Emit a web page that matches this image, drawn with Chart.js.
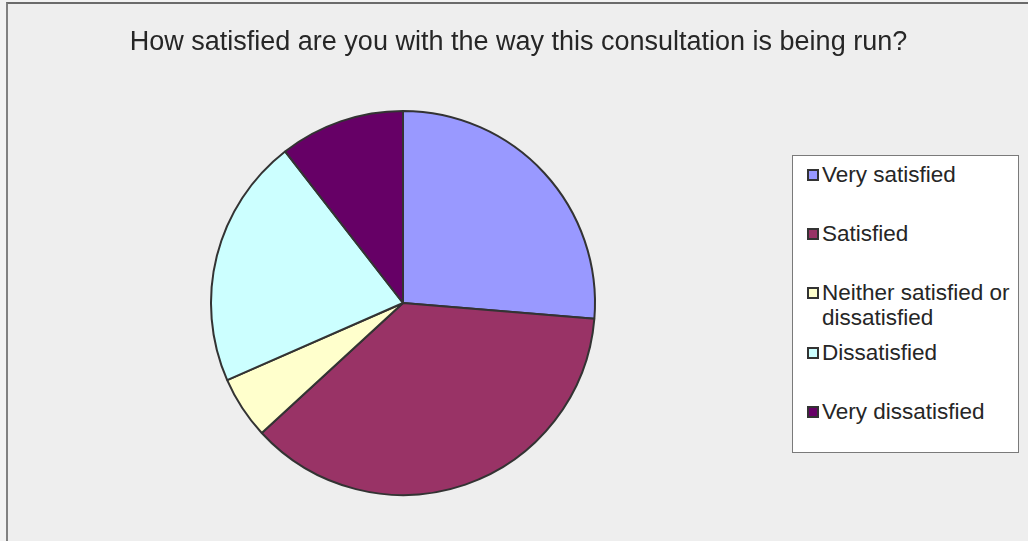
<!DOCTYPE html>
<html>
<head>
<meta charset="utf-8">
<script src="https://cdn.jsdelivr.net/npm/chart.js@4/dist/chart.umd.min.js"></script>
<style>
  html, body { margin: 0; padding: 0; }
  body { width: 1028px; height: 541px; background: #f2f2f2; overflow: hidden; position: relative;
         font-family: "Liberation Sans", Arial, sans-serif; }
  #frame { position: absolute; left: 6px; top: 2px; width: 1040px; height: 560px;
           background: #eeeeee; border-left: 2px solid #808080; border-top: 2px solid #6a6a6a; }
  #wrap { position: absolute; left: 0; top: 0; width: 1028px; height: 541px; }
  #title { position: absolute; left: 8px; width: 1021px; top: 26px; text-align: center;
           font-size: 27px; line-height: 30px; color: #262626; white-space: nowrap; }
  #legend { position: absolute; left: 792px; top: 155px; width: 227px; height: 298px;
            box-sizing: border-box; background: #ffffff; border: 1px solid #7a7a7a; }
  .item { display: flex; align-items: flex-start; height: 59.4px; box-sizing: border-box;
          padding: 5.5px 0 0 14px; }
  .swatch { flex: none; width: 12px; height: 12px; box-sizing: border-box; border: 2px solid #333333;
            margin: 7px 3px 0 0; }
  .txt { font-size: 22.5px; line-height: 25px; color: #262626; width: 194px; }
</style>
</head>
<body>
<div id="frame"></div>
<div id="wrap"><canvas id="c" width="1028" height="541"></canvas></div>
<div id="title"></div>
<div id="legend"></div>
<script>
// Survey responses (number of respondents per answer)
const titleText = 'How satisfied are you with the way this consultation is being run?';
const categories = ['Very satisfied', 'Satisfied', 'Neither satisfied or dissatisfied', 'Dissatisfied', 'Very dissatisfied'];
const responses = [5, 7, 1, 4, 2];
const sliceColors = ['#9999FF', '#993366', '#FFFFCC', '#CCFFFF', '#660066'];

document.getElementById('title').textContent = titleText;

// Legend, one row per answer
const legend = document.getElementById('legend');
categories.forEach((name, i) => {
  const row = document.createElement('div');
  row.className = 'item';
  const sw = document.createElement('span');
  sw.className = 'swatch';
  sw.style.background = sliceColors[i];
  const tx = document.createElement('span');
  tx.className = 'txt';
  tx.textContent = name;
  row.appendChild(sw);
  row.appendChild(tx);
  legend.appendChild(row);
});

new Chart(document.getElementById('c'), {
  type: 'pie',
  data: {
    labels: categories,
    datasets: [{
      data: responses,
      backgroundColor: sliceColors,
      borderColor: '#333333',
      borderWidth: 2,
      borderAlign: 'center'
    }]
  },
  options: {
    responsive: false,
    animation: false,
    layout: { padding: { left: 210, right: 432, top: 110, bottom: 45 } },
    plugins: {
      legend: { display: false },
      title: { display: false },
      tooltip: { enabled: false }
    }
  }
});
</script>
</body>
</html>
